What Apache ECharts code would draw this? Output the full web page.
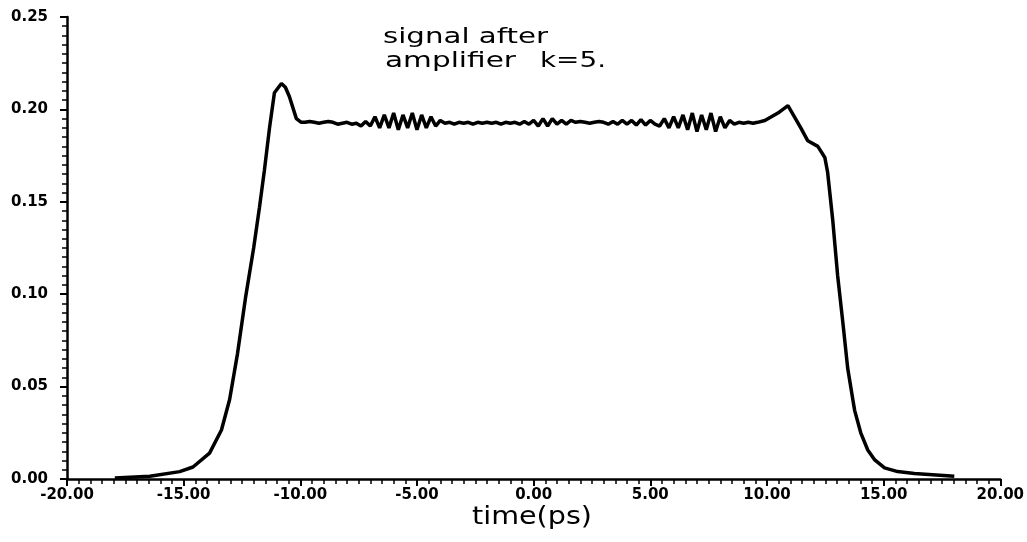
<!DOCTYPE html>
<html>
<head>
<meta charset="utf-8">
<script src="https://cdn.jsdelivr.net/npm/echarts@6/dist/echarts.min.js"></script>
<style>html,body{margin:0;padding:0;background:#fff;}#c{width:1027px;height:542px;}</style>
</head>
<body>
<div id="c"></div>
<script>
// time (ps)
var timePs = [
  -17.95, -16.45, -15.17, -14.6, -13.89, -13.38, -13.03, -12.69, -12.35, -12.0,
  -11.75, -11.54, -11.32, -11.11, -10.81, -10.64, -10.47, -10.17,
  -9.96, -9.8, -9.6, -9.4, -9.2, -9.0, -8.8, -8.6, -8.4, -8.2, -8.0,
  -7.8, -7.6, -7.4, -7.2, -7.0, -6.8, -6.6, -6.4, -6.2, -6.0,
  -5.8, -5.6, -5.4, -5.2, -5.0, -4.8, -4.6, -4.4, -4.2, -4.0,
  -3.8, -3.6, -3.4, -3.2, -3.0, -2.8, -2.6, -2.4, -2.2, -2.0,
  -1.8, -1.6, -1.4, -1.2, -1.0, -0.8, -0.6, -0.4, -0.2, 0.0,
  0.2, 0.4, 0.6, 0.8, 1.0, 1.2, 1.4, 1.6, 1.8, 2.0,
  2.2, 2.4, 2.6, 2.8, 3.0, 3.2, 3.4, 3.6, 3.8, 4.0,
  4.2, 4.4, 4.6, 4.8, 5.0, 5.2, 5.4, 5.6, 5.8, 6.0,
  6.2, 6.4, 6.6, 6.8, 7.0, 7.2, 7.4, 7.6, 7.8, 8.0,
  8.2, 8.4, 8.6, 8.8, 9.0, 9.2, 9.4, 9.6, 9.91,
  10.47, 10.9, 11.45, 11.75, 12.18, 12.48, 12.6, 12.82, 13.03, 13.25,
  13.46, 13.68, 13.76, 14.02, 14.32, 14.62, 15.04, 15.6, 16.32, 18.03
];
// signal amplitude
var signal = [
  0.0005, 0.0015, 0.004, 0.0065, 0.014, 0.0265, 0.043, 0.068, 0.098, 0.125,
  0.147, 0.167, 0.190, 0.209, 0.214, 0.212, 0.207, 0.195,
  0.193, 0.193, 0.1935, 0.193, 0.1925, 0.193, 0.1935, 0.193, 0.192, 0.1925, 0.193,
  0.192, 0.1925, 0.191, 0.1935, 0.191, 0.196, 0.190, 0.197, 0.190, 0.198,
  0.189, 0.197, 0.190, 0.198, 0.189, 0.197, 0.190, 0.196, 0.191, 0.194,
  0.1925, 0.193, 0.192, 0.193, 0.1925, 0.193, 0.192, 0.193, 0.1925, 0.193,
  0.1925, 0.193, 0.192, 0.193, 0.1925, 0.193, 0.192, 0.1935, 0.192, 0.194,
  0.191, 0.195, 0.191, 0.195, 0.192, 0.194, 0.192, 0.194, 0.193, 0.1935,
  0.193, 0.1925, 0.193, 0.1935, 0.193, 0.192, 0.1935, 0.192, 0.194, 0.192,
  0.194, 0.1915, 0.1945, 0.1915, 0.194, 0.192, 0.191, 0.195, 0.190, 0.196,
  0.190, 0.197, 0.189, 0.198, 0.188, 0.197, 0.189, 0.198, 0.188, 0.196,
  0.190, 0.194, 0.192, 0.193, 0.1925, 0.193, 0.1925, 0.193, 0.194,
  0.198, 0.202, 0.190, 0.183, 0.180, 0.174, 0.166, 0.140, 0.110, 0.085,
  0.060, 0.043, 0.037, 0.025, 0.0157, 0.0103, 0.006, 0.004, 0.003, 0.0015
];
var xTicks = { min: -20, max: 20, step: 5 };
var yTicks = { min: 0, max: 0.25, step: 0.05 };
var titleLine1 = 'signal after';
var titleWord2 = 'amplifier';
var titleWord3 = 'k=5.';
var xName = 'time(ps)';

var points = timePs.map(function (t, i) { return [t, signal[i]]; });

// text measuring helper to stretch the plotter-style lettering horizontally
var mctx = document.createElement('canvas').getContext('2d');
function fitText(str, font, left, top, width) {
  mctx.font = font;
  var w = mctx.measureText(str).width;
  return { type: 'text', x: left, y: top, scaleX: width / w, scaleY: 1,
           style: { text: str, font: font, fill: '#000', textVerticalAlign: 'top' } };
}

var chart = echarts.init(document.getElementById('c'), null, { renderer: 'canvas' });
chart.setOption({
  animation: false,
  backgroundColor: '#fff',
  grid: { left: 67, right: 24, top: 17, bottom: 63 },
  xAxis: {
    type: 'value', min: xTicks.min, max: xTicks.max, interval: xTicks.step,
    axisLine: { onZero: false, lineStyle: { color: '#000', width: 2.5 } },
    axisTick: { length: 7, lineStyle: { color: '#000', width: 2 } },
    minorTick: { show: true, splitNumber: 10, length: 5, lineStyle: { color: '#000', width: 1.5 } },
    splitLine: { show: false },
    axisLabel: { margin: 9, color: '#000', fontFamily: 'DejaVu Sans', fontWeight: 'bold', fontSize: 15,
                 formatter: function (v) { return v.toFixed(2); } }
  },
  yAxis: {
    type: 'value', min: yTicks.min, max: yTicks.max, interval: yTicks.step,
    axisLine: { show: true, onZero: false, lineStyle: { color: '#000', width: 2.5 } },
    axisTick: { show: true, length: 7, lineStyle: { color: '#000', width: 2 } },
    minorTick: { show: true, splitNumber: 10, length: 5, lineStyle: { color: '#000', width: 1.5 } },
    splitLine: { show: false },
    axisLabel: { margin: 19, color: '#000', fontFamily: 'DejaVu Sans', fontWeight: 'bold', fontSize: 15,
                 formatter: function (v) { return v.toFixed(2); } }
  },
  graphic: [
    fitText(titleLine1, '21px "DejaVu Sans"', 383, 27, 165),
    fitText(titleWord2, '21px "DejaVu Sans"', 385, 51, 131),
    fitText(titleWord3, '21px "DejaVu Sans"', 540, 51, 66),
    fitText(xName, '24px "DejaVu Sans"', 472, 506, 120)
  ],
  series: [{
    type: 'line', data: points, showSymbol: false, smooth: false,
    lineStyle: { color: '#000', width: 3.5 }
  }]
});
</script>
</body>
</html>
